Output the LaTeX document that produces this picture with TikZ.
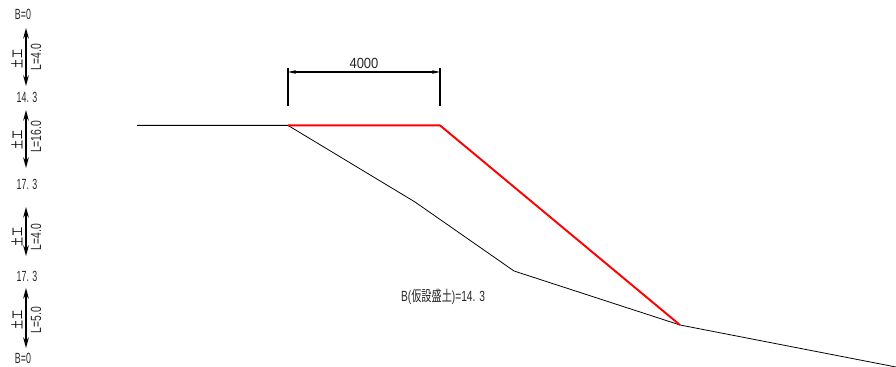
\documentclass[tikz,border=0pt]{standalone}
\usepackage{fontspec}
\setmainfont{Liberation Sans}
\newfontfamily\cjk{Noto Sans CJK JP}
\usetikzlibrary{arrows.meta}
\tikzset{
  lbl/.style={inner sep=0pt,font=\fontsize{8.4}{9}\selectfont,text=black!85},
  vlbl/.style={lbl,rotate=90,xscale=0.7},
  koji/.style={inner sep=0pt,rotate=90,xscale=0.7,font=\cjk\fontsize{7.4}{8}\selectfont,text=black},
  span/.style={line width=0.95pt,{Stealth[length=6pt,width=3.2pt]}-{Stealth[length=6pt,width=3.2pt]}},
  dimtick/.style={line width=0.75pt},
  dimline/.style={line width=0.8pt,{Stealth[length=4.5pt,width=2pt]}-{Stealth[length=4.5pt,width=2pt]}},
  soil/.style={line width=0.45pt},
  fillred/.style={red,line width=1.1pt,line join=round}
}
\begin{document}
\begin{tikzpicture}[x=0.02cm,y=-0.02cm]
     \useasboundingbox (0,0) rectangle (896,367);
     % ground line
     \coordinate (g0) at (137,125.4);
     \coordinate (g1) at (288,125.4);
     \coordinate (g2) at (415,202);
     \coordinate (g3) at (514,271);
     \coordinate (g4) at (680,325);
     \coordinate (g5) at (896,367);
     \coordinate (r1) at (440,125.4);
     \draw[soil] (g0) -- (g1) -- (g2) -- (g3) -- (g4) -- (g5);
     \draw[fillred] (g1) -- (r1) -- (g4);
     % dimension
     \coordinate (d1t) at (288,68);
     \coordinate (d1b) at (288,106);
     \coordinate (d2t) at (440,68);
     \coordinate (d2b) at (440,106);
     \coordinate (d1) at (288,72);
     \coordinate (d2) at (440,72);
     \draw[dimtick] (d1t) -- (d1b);
     \draw[dimtick] (d2t) -- (d2b);
     \draw[dimline] (d1) -- (d2);
     \node[lbl,xscale=0.88] (width) at (364,63) {4000};
     \node[lbl,xscale=0.69] (fill) at (443,297) {B({\cjk 仮設盛土})=14. 3};
     % stations
     \node[lbl,xscale=0.6] (s0) at (23,14)  {B=0};
     \node[lbl,xscale=0.6] (s1) at (27,97)  {14. 3};
     \node[lbl,xscale=0.6] (s2) at (27,184) {17. 3};
     \node[lbl,xscale=0.6] (s3) at (27,276) {17. 3};
     \node[lbl,xscale=0.6] (s4) at (23,358) {B=0};
     % spans
     \foreach \n/\ya/\yb/\yk/\yl/\t in {a/28/86/59/57/L=4.0,b/110/168/140/137/L=16.0,c/207/256/237/237/L=4.0,d/288/348/320/320/L=5.0} {
      \coordinate (\n t) at (26,\ya);
      \coordinate (\n b) at (26,\yb);
      \draw[span] (\n t) -- (\n b);
      \node[koji] (k\n) at (17,\yk) {土工};
      \node[vlbl] (l\n) at (36,\yl) {\t};
     }
\end{tikzpicture}
\end{document}
